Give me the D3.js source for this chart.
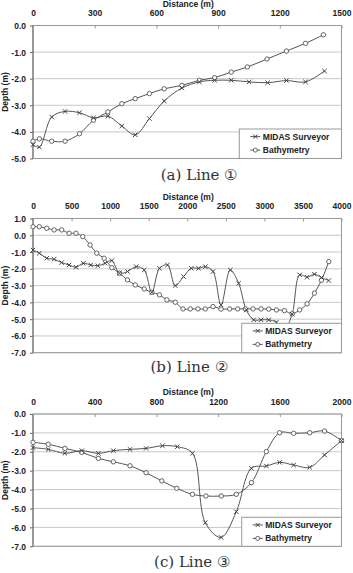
<!DOCTYPE html>
<html>
<head>
<meta charset="utf-8">
<script src="https://cdn.jsdelivr.net/npm/d3@7"></script>
<style>
  body { margin: 0; background: #fff; }
  svg { display: block; }
  .tick text { font-family: "Liberation Sans", Arial, sans-serif; font-weight: bold; font-size: 8.5px; fill: #222; }
</style>
</head>
<body>
<div id="chart"></div>
<script>
// ---- data ----
// Line 1
var distA_bathy = [0, 31, 91, 156, 226, 294, 364, 432, 497, 566, 638, 724, 809, 883, 964, 1042, 1138, 1232, 1325, 1412]
var depthA_bathy = [-4.35, -4.26, -4.35, -4.35, -4.07, -3.56, -3.25, -2.94, -2.75, -2.56, -2.38, -2.25, -2.06, -1.96, -1.75, -1.56, -1.26, -0.96, -0.67, -0.35]
var distA_midas = [0, 31, 91, 156, 226, 294, 364, 432, 497, 566, 638, 724, 809, 883, 964, 1051, 1141, 1232, 1325, 1417]
var depthA_midas = [-4.48, -4.57, -3.44, -3.23, -3.28, -3.47, -3.41, -3.78, -4.11, -3.50, -2.84, -2.35, -2.12, -2.06, -2.06, -2.12, -2.15, -2.07, -2.12, -1.71]

// Line 2
var distB_bathy = [0, 82, 178, 273, 372, 468, 558, 645, 740, 827, 922, 1022, 1121, 1225, 1325, 1442, 1541, 1640, 1736, 1844, 1944, 2039, 2139, 2234, 2334, 2438, 2550, 2654, 2753, 2853, 2957, 3056, 3156, 3260, 3360, 3458, 3554, 3649, 3740, 3835]
var depthB_bathy = [0.51, 0.51, 0.42, 0.32, 0.32, 0.12, 0.12, -0.08, -0.58, -1.07, -1.37, -1.93, -2.26, -2.66, -2.96, -3.20, -3.40, -3.55, -3.85, -3.99, -4.39, -4.39, -4.39, -4.39, -4.25, -4.40, -4.39, -4.39, -4.39, -4.39, -4.39, -4.40, -4.45, -4.49, -4.68, -4.45, -4.09, -3.45, -2.68, -1.57]
var distB_midas = [0, 82, 178, 273, 372, 468, 558, 653, 749, 840, 935, 1022, 1121, 1225, 1338, 1442, 1541, 1640, 1744, 1844, 1952, 2052, 2147, 2234, 2334, 2438, 2558, 2666, 2766, 2861, 2957, 3056, 3156, 3260, 3360, 3458, 3554, 3649, 3740, 3835]
var depthB_midas = [-0.88, -1.07, -1.37, -1.43, -1.63, -1.77, -1.90, -1.67, -1.77, -1.81, -1.67, -1.51, -2.26, -2.16, -1.87, -2.07, -3.40, -1.97, -1.77, -3.00, -2.46, -1.97, -1.97, -1.87, -2.16, -4.15, -2.07, -2.86, -4.45, -5.04, -5.04, -5.04, -5.18, -5.60, -4.70, -2.36, -2.50, -2.32, -2.52, -2.70]

// Line 3
var distC_bathy = [0, 99, 207, 316, 424, 521, 629, 733, 835, 932, 1034, 1121, 1221, 1318, 1416, 1513, 1599, 1690, 1794, 1890, 2000]
var depthC_bathy = [-1.50, -1.60, -1.82, -2.03, -2.35, -2.53, -2.74, -3.11, -3.54, -3.93, -4.25, -4.34, -4.34, -4.25, -3.63, -1.99, -0.99, -1.02, -0.99, -0.90, -1.41]
var distC_midas = [0, 99, 207, 316, 424, 521, 629, 733, 839, 936, 1034, 1117, 1219, 1318, 1416, 1513, 1599, 1690, 1794, 1890, 2000]
var depthC_midas = [-1.78, -1.87, -2.08, -1.94, -2.08, -1.94, -1.87, -1.82, -1.68, -1.73, -2.08, -5.75, -6.53, -5.17, -2.87, -2.75, -2.56, -2.70, -2.82, -2.17, -1.41]

var xTicksA = [0, 300, 600, 900, 1200, 1500]
var yTicksA = [0, -1, -2, -3, -4, -5]
var xTicksB = [0, 500, 1000, 1500, 2000, 2500, 3000, 3500, 4000]
var yTicksB = [1, 0, -1, -2, -3, -4, -5, -6, -7]
var xTicksC = [0, 400, 800, 1200, 1600, 2000]
var yTicksC = [0, -1, -2, -3, -4, -5, -6, -7]

var seriesNames = ["MIDAS Surveyor", "Bathymetry"]
var captions = ["(a) Line \u2460", "(b) Line \u2461", "(c) Line \u2462"]

var width = 353
var height = 573
var left = 33
var right = 341.5
var lineColor = "#555"

var svg = d3.select("#chart")
    .append("svg")
    .attr("width", width)
    .attr("height", height)

function zip(xs, ys) {
    return xs.map((d, i) => ({ x: d, y: ys[i] }))
}

function drawPanel(p) {
    var x = d3.scaleLinear().domain([p.xTicks[0], p.xTicks[p.xTicks.length - 1]]).range([left, right])
    var y = d3.scaleLinear().domain([d3.min(p.yTicks), d3.max(p.yTicks)]).range([p.bottom, p.top])
    var g = svg.append("g")

    // gridlines
    g.append("g")
        .selectAll("line")
        .data(p.yTicks)
        .join("line")
        .attr("x1", left).attr("x2", right)
        .attr("y1", d => y(d)).attr("y2", d => y(d))
        .attr("stroke", "#c8c8c8")
        .attr("stroke-width", 1)

    // plot border
    g.append("rect")
        .attr("x", left).attr("y", p.top)
        .attr("width", right - left).attr("height", p.bottom - p.top)
        .attr("fill", "none")
        .attr("stroke", "#999")
    g.append("line")
        .attr("x1", left).attr("x2", left)
        .attr("y1", p.top).attr("y2", p.bottom)
        .attr("stroke", "#666")

    // top axis
    var xAxis = g.append("g")
        .attr("transform", "translate(0," + p.top + ")")
        .call(d3.axisTop(x).tickValues(p.xTicks).tickSizeInner(-3).tickSizeOuter(0).tickPadding(9.5).tickFormat(d3.format("d")))
    xAxis.select(".domain").remove()
    xAxis.selectAll(".tick line").attr("stroke", "#999")

    // left axis
    var yAxis = g.append("g")
        .attr("transform", "translate(" + left + ",0)")
        .call(d3.axisLeft(y).tickValues(p.yTicks).tickSizeInner(3).tickSizeOuter(0).tickPadding(4).tickFormat(d => d.toFixed(1)))
    yAxis.select(".domain").remove()
    yAxis.selectAll(".tick line").attr("stroke", "#666")
    yAxis.selectAll(".tick text").attr("dy", "0.35em")

    // axis titles
    g.append("text")
        .attr("x", (left + right) / 2 + 1)
        .attr("y", p.top - 21.5)
        .attr("dy", "0.35em")
        .attr("text-anchor", "middle")
        .style("font-family", "Liberation Sans, Arial, sans-serif")
        .style("font-weight", "bold")
        .style("font-size", "8.5px")
        .attr("fill", "#222")
        .text("Distance (m)")
    g.append("text")
        .attr("transform", "translate(5," + (p.top + p.bottom) / 2 + ") rotate(-90)")
        .attr("dy", "0.35em")
        .attr("text-anchor", "middle")
        .style("font-family", "Liberation Sans, Arial, sans-serif")
        .style("font-weight", "bold")
        .style("font-size", "8.5px")
        .attr("fill", "#222")
        .text("Depth (m)")

    var line = d3.line()
        .x(d => x(d.x))
        .y(d => y(d.y))
        .curve(d3.curveCatmullRom.alpha(0.5))

    var bathy = zip(p.bathyX, p.bathyY)
    var midas = zip(p.midasX, p.midasY)

    g.append("path").datum(bathy).attr("d", line)
        .attr("fill", "none").attr("stroke", lineColor).attr("stroke-width", 1)
    g.append("path").datum(midas).attr("d", line)
        .attr("fill", "none").attr("stroke", lineColor).attr("stroke-width", 1)

    // markers
    g.append("g").selectAll("circle")
        .data(bathy)
        .join("circle")
        .attr("cx", d => x(d.x)).attr("cy", d => y(d.y))
        .attr("r", 2.2)
        .attr("fill", "#fff")
        .attr("stroke", lineColor)
        .attr("stroke-width", 0.9)
    g.append("g").selectAll("path")
        .data(midas)
        .join("path")
        .attr("transform", d => "translate(" + x(d.x) + "," + y(d.y) + ")")
        .attr("d", "M-2.2,-2.2L2.2,2.2M-2.2,2.2L2.2,-2.2")
        .attr("stroke", "#444")
        .attr("stroke-width", 1)

    // legend
    var lg = g.append("g").attr("transform", "translate(" + p.legendX + "," + p.legendY + ")")
    lg.append("rect")
        .attr("width", right - p.legendX).attr("height", p.bottom - p.legendY)
        .attr("fill", "#fff").attr("stroke", "#999")
    seriesNames.forEach(function (name, i) {
        var yy = 7.6 + i * 13.5
        lg.append("line")
            .attr("x1", 11).attr("x2", 21).attr("y1", yy).attr("y2", yy)
            .attr("stroke", lineColor)
        if (i === 0) {
            lg.append("path")
                .attr("transform", "translate(16," + yy + ")")
                .attr("d", "M-2,-2L2,2M-2,2L2,-2")
                .attr("stroke", "#444")
        } else {
            lg.append("circle")
                .attr("cx", 16).attr("cy", yy).attr("r", 2)
                .attr("fill", "#fff").attr("stroke", lineColor).attr("stroke-width", 0.9)
        }
        lg.append("text")
            .attr("x", 23.5).attr("y", yy)
            .attr("dy", "0.35em")
            .style("font-family", "Liberation Sans, Arial, sans-serif")
            .style("font-weight", "bold")
            .style("font-size", "8.5px")
            .attr("fill", "#222")
            .text(name)
    })

    // caption
    svg.append("text")
        .attr("x", p.captionX)
        .attr("y", p.captionY)
        .attr("text-anchor", "middle")
        .style("font-family", "DejaVu Serif, serif")
        .style("font-size", "15px")
        .attr("fill", "#333")
        .text(p.caption)
}

drawPanel({ top: 25.5, bottom: 158.5, xTicks: xTicksA, yTicks: yTicksA,
    bathyX: distA_bathy, bathyY: depthA_bathy, midasX: distA_midas, midasY: depthA_midas,
    legendX: 239.3, legendY: 129, caption: captions[0], captionX: 199, captionY: 180 })

drawPanel({ top: 218.5, bottom: 352.7, xTicks: xTicksB, yTicks: yTicksB,
    bathyX: distB_bathy, bathyY: depthB_bathy, midasX: distB_midas, midasY: depthB_midas,
    legendX: 241.7, legendY: 323.3, caption: captions[1], captionX: 189, captionY: 372 })

drawPanel({ top: 414, bottom: 546.3, xTicks: xTicksC, yTicks: yTicksC,
    bathyX: distC_bathy, bathyY: depthC_bathy, midasX: distC_midas, midasY: depthC_midas,
    legendX: 241.7, legendY: 517.3, caption: captions[2], captionX: 192, captionY: 566.5 })
</script>
</body>
</html>
